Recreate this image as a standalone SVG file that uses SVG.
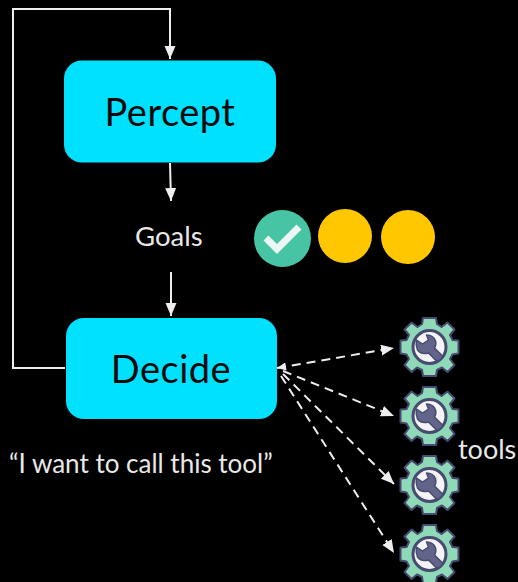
<svg xmlns="http://www.w3.org/2000/svg" width="518" height="582" viewBox="0 0 518 582">
<style>
.box{fill:#00e0ff}
.lbl{font-family:"Lato","Liberation Sans",sans-serif;fill:#0a0a0a;font-size:38px;letter-spacing:.5px;text-anchor:middle}
.txt{font-family:"Lato","Liberation Sans",sans-serif;fill:#e8e8e8;font-size:26px}
.ln{fill:none;stroke:#eeeeee;stroke-width:2}
.dash{stroke-dasharray:9 6}
.g1{fill:#8fd9b8;stroke:#474b70;stroke-width:2;stroke-linejoin:round}
</style>
<defs>
<marker id="a" markerUnits="userSpaceOnUse" markerWidth="14" markerHeight="14" refX="13" refY="5.500" orient="auto"><path d="M0 0L13 5.500L0 11Z" fill="#eeeeee"/></marker>
<marker id="s" markerUnits="userSpaceOnUse" markerWidth="12" markerHeight="12" refX="0" refY="4" orient="auto"><path d="M9 0L0 4L9 8Z" fill="#eeeeee"/></marker>
<g id="gear">
<path class="g1" d="M-6.500 -29H6.500L7.500 -23L12 -20L18 -24.500L25 -17.500L20.500 -12L23 -7L29 -6.500V6.500L23 7.500L20.500 12L25 18L18 25L12.500 20.500L7.500 23L6.500 29H-6.500L-7.500 23L-12.500 20.500L-18 25L-25 18L-20.500 12L-23 7.500L-29 6.500V-6.500L-23 -7L-20.500 -12L-25 -17.500L-18 -24.500L-12 -20L-7.500 -23Z"/>
<circle r="16.500" fill="#f4f4f6" stroke="#474b70" stroke-width="3"/>
<path d="M-13 -7L-7 -3L-1 -7L-3 -12Q4 -12 6 -6Q7 -2 5 1L13 9Q12 14 7 14L-1 6Q-8 8 -12 3Q-14 -2 -13 -7Z" fill="#62648a" stroke="#474b70" stroke-width="1.500" stroke-linejoin="round"/>
</g>
</defs>
<rect width="518" height="582" fill="#000000"/>
<g id="connectors">
<path class="ln" d="M65 368H13V9H170V59" marker-end="url(#a)"/>
<path class="ln" d="M170 163L171 201" marker-end="url(#a)"/>
<path class="ln" d="M171 272V316" marker-end="url(#a)"/>
<path class="ln dash" d="M277 368L394 348" marker-start="url(#s)" marker-end="url(#a)"/>
<path class="ln dash" d="M283 371L394 416" marker-end="url(#a)"/>
<path class="ln dash" d="M283 374L394 484" marker-end="url(#a)"/>
<path class="ln dash" d="M281 376L394 553" marker-end="url(#a)"/>
</g>
<g id="percept"><rect class="box" x="64" y="60.500" width="212" height="102" rx="18"/><text class="lbl" x="170" y="126">Percept</text></g>
<g id="decide"><rect class="box" x="66" y="318" width="211" height="101" rx="18"/><text class="lbl" x="171" y="383">Decide</text></g>
<g id="goals"><text class="txt" x="135" y="246" style="font-size:27.500px">Goals</text></g>
<g id="goal-done"><circle cx="282.500" cy="238.500" r="28.500" fill="#47c4a4"/><path d="M266 238L277 249L299 227" fill="none" stroke="#eef5f5" stroke-width="7"/></g>
<g id="goal-2"><circle cx="345" cy="236" r="27" fill="#ffc700"/></g>
<g id="goal-3"><circle cx="408" cy="237" r="27" fill="#ffc700"/></g>
<g id="tool-1"><use href="#gear" transform="translate(429.500 347)"/></g>
<g id="tool-2"><use href="#gear" transform="translate(429.500 416)"/></g>
<g id="tool-3"><use href="#gear" transform="translate(429.500 485)"/></g>
<g id="tool-4"><use href="#gear" transform="translate(429.500 554)"/></g>
<g id="tools-label"><text class="txt" x="458" y="459" style="font-size:27px">tools</text></g>
<g id="quote"><text class="txt" x="9" y="473">“I want to call this tool”</text></g>
</svg>
